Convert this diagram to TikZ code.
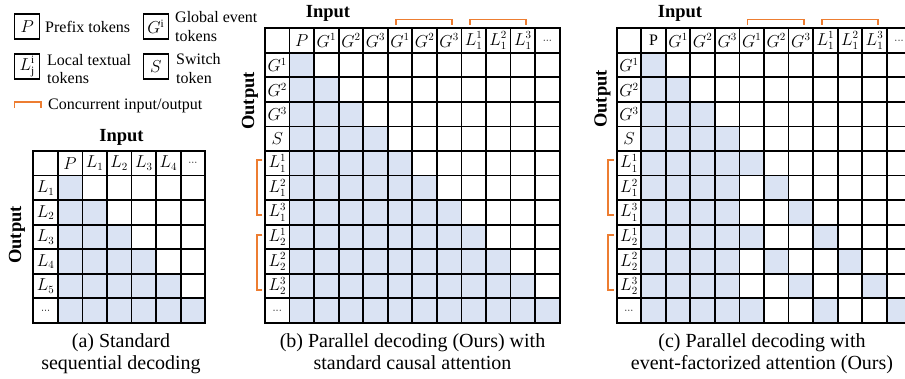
\documentclass[tikz,border=0pt]{standalone}
\usepackage{fontspec}
\setmainfont{Liberation Serif}
\definecolor{cellblue}{RGB}{218,227,243}
\definecolor{orng}{RGB}{237,125,49}
\tikzset{
  gridline/.style={line width=1.8pt, line cap=rect},
  lbl/.style={inner sep=0pt, font=\fontsize{16}{18}\selectfont},
  brk/.style={draw=orng, line width=1.8pt},
  headlbl/.style={font=\fontsize{18.5}{20}\selectfont\bfseries, inner sep=0pt},
  caplbl/.style={font=\fontsize{20}{21}\selectfont, inner sep=0pt, anchor=base},
  legtext/.style={align=left, anchor=west, font=\fontsize{16}{18.5}\selectfont, inner sep=0pt},
  legbox/.style={draw, line width=1.5pt, minimum size=25pt, inner sep=0pt, font=\fontsize{16}{18}\selectfont},
}
\begin{document}
\begin{tikzpicture}[x=1pt, y=-1pt]
\useasboundingbox (0,0) rectangle (905,379);

% ---------------- legend ----------------
\node[legbox] (lgP) at (27.2,26.7) {$P$};
\node[legtext] (lgPt) at (45,26.5) {Prefix tokens};
\node[legbox] (lgG) at (155.8,26.7) {$G^{\mathrm{i}}$};
\node[legtext] (lgGt) at (175,26.5) {Global event\\tokens};
\node[legbox] (lgL) at (27.2,66.7) {$L^{\mathrm{i}}_{\mathrm{j}}$};
\node[legtext] (lgLt) at (47,69) {Local textual\\tokens};
\node[legbox] (lgS) at (155.8,66.7) {$S$};
\node[legtext] (lgSt) at (176,68.5) {Switch\\token};
\draw[brk] (14.5,108) -- (14.5,101.7) -- (41,101.7) -- (41,108);
\node[legtext] (lgC) at (48,105.5) {Concurrent input/output};

% ---------------- grid (a) ----------------
\begin{scope}[shift={(33.3,151.05)}, x=24.55pt, y=-24.55pt]
  \foreach \r in {1,...,6} \fill[cellblue] (1,\r) rectangle (\r+1,\r+1);
  \foreach \k in {0,...,7} {
    \draw[gridline] (\k,0) -- (\k,7);
    \draw[gridline] (0,\k) -- (7,\k);
  }
  \foreach \t [count=\j] in {P,L_1,L_2,L_3,L_4,\scriptstyle\cdots}
    \node[lbl] (a-h\j) at (\j+0.5,0.5) {$\t$};
  \foreach \t [count=\j] in {L_1,L_2,L_3,L_4,L_5,\scriptstyle\cdots}
    \node[lbl] (a-r\j) at (0.5,\j+0.5) {$\t$};
\end{scope}
\node[headlbl, anchor=base] (a-in) at (121.5,142) {Input};
\node[headlbl, rotate=90] (a-out) at (17,235) {Output};
\node[caplbl] (a-cap1) at (121,348) {(a) Standard};
\node[caplbl] (a-cap2) at (121,369) {sequential decoding};

% ---------------- grid (b) ----------------
\begin{scope}[shift={(265,28.3)}, x=24.55pt, y=-24.55pt]
  \foreach \r in {1,...,11} \fill[cellblue] (1,\r) rectangle (\r+1,\r+1);
  \foreach \k in {0,...,12} {
    \draw[gridline] (\k,0) -- (\k,12);
    \draw[gridline] (0,\k) -- (12,\k);
  }
  \foreach \t [count=\j] in {P,G^1,G^2,G^3,G^1,G^2,G^3,L^1_1,L^2_1,L^3_1,\scriptstyle\cdots}
    \node[lbl] (b-h\j) at (\j+0.5,0.5) {$\t$};
  \foreach \t [count=\j] in {G^1,G^2,G^3,S,L^1_1,L^2_1,L^3_1,L^1_2,L^2_2,L^3_2,\scriptstyle\cdots}
    \node[lbl] (b-r\j) at (0.5,\j+0.5) {$\t$};
  \draw[brk] (5.33,-0.13) -- (5.33,-0.36) -- (7.63,-0.36) -- (7.63,-0.13);
  \draw[brk] (8.35,-0.13) -- (8.35,-0.36) -- (10.63,-0.36) -- (10.63,-0.13);
  \draw[brk] (-0.11,5.38) -- (-0.34,5.38) -- (-0.34,7.62) -- (-0.11,7.62);
  \draw[brk] (-0.11,8.42) -- (-0.34,8.42) -- (-0.34,10.66) -- (-0.11,10.66);
\end{scope}
\node[headlbl, anchor=base] (b-in) at (328,17.5) {Input};
\node[headlbl, rotate=90] (b-out) at (250,101) {Output};
\node[caplbl] (b-cap1) at (412.5,348) {(b) Parallel decoding (Ours) with};
\node[caplbl] (b-cap2) at (412.5,369) {standard causal attention};

% ---------------- grid (c) ----------------
\begin{scope}[shift={(616.7,28.3)}, x=24.55pt, y=-24.55pt]
  \foreach \r in {1,...,4} \fill[cellblue] (1,\r) rectangle (\r+1,\r+1);
  \fill[cellblue] (1,5) rectangle (5,11);
  \fill[cellblue] (1,11) rectangle (6,12);
  \foreach \c/\r in {5/5,6/6,7/7,5/8,8/8,6/9,9/9,7/10,10/10,8/11,11/11}
    \fill[cellblue] (\c,\r) rectangle (\c+1,\r+1);
  \foreach \k in {0,...,12} {
    \draw[gridline] (\k,0) -- (\k,12);
    \draw[gridline] (0,\k) -- (12,\k);
  }
  \foreach \t [count=\j] in {\mathrm{P},G^1,G^2,G^3,G^1,G^2,G^3,L^1_1,L^2_1,L^3_1,\scriptstyle\cdots}
    \node[lbl] (c-h\j) at (\j+0.5,0.5) {$\t$};
  \foreach \t [count=\j] in {G^1,G^2,G^3,S,L^1_1,L^2_1,L^3_1,L^1_2,L^2_2,L^3_2,\scriptstyle\cdots}
    \node[lbl] (c-r\j) at (0.5,\j+0.5) {$\t$};
  \draw[brk] (5.33,-0.13) -- (5.33,-0.36) -- (7.63,-0.36) -- (7.63,-0.13);
  \draw[brk] (8.35,-0.13) -- (8.35,-0.36) -- (10.63,-0.36) -- (10.63,-0.13);
  \draw[brk] (-0.11,5.38) -- (-0.34,5.38) -- (-0.34,7.62) -- (-0.11,7.62);
  \draw[brk] (-0.11,8.42) -- (-0.34,8.42) -- (-0.34,10.66) -- (-0.11,10.66);
\end{scope}
\node[headlbl, anchor=base] (c-in) at (680,17.5) {Input};
\node[headlbl, rotate=90] (c-out) at (602.5,99) {Output};
\node[caplbl] (c-cap1) at (762,348) {(c) Parallel decoding with};
\node[caplbl] (c-cap2) at (762,369) {event-factorized attention (Ours)};
\end{tikzpicture}
\end{document}
